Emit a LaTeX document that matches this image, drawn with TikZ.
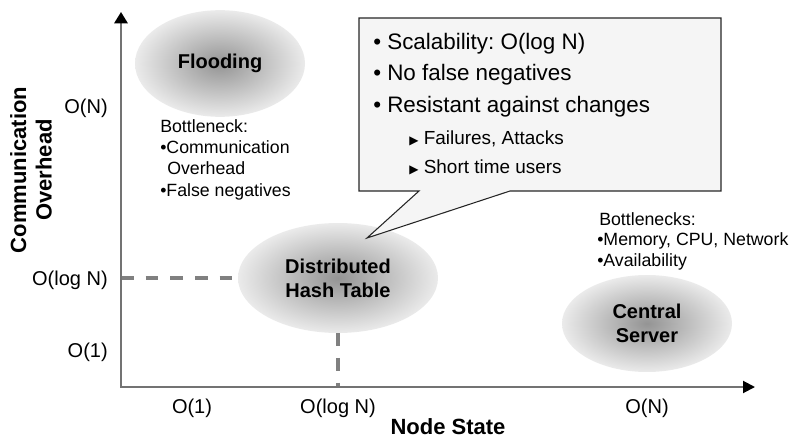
\documentclass[tikz,border=0pt]{standalone}
\usepackage{fontspec}
\setmainfont{Liberation Sans}
\newfontfamily\symfont{DejaVu Sans}
\usetikzlibrary{arrows.meta,shapes.geometric}
\frenchspacing

\begin{document}
\begin{tikzpicture}[x=0.75pt, y=-0.75pt,
	axis/.style={draw=black!55, line width=1.5pt},
	guide/.style={draw=black!50, line width=2.4pt, dash pattern=on 9.5pt off 9pt},
	blob/.style={ellipse, inner color=black!42, outer color=black!8, inner sep=0pt, align=center, font=\fontsize{15}{18}\selectfont\bfseries},
	tick/.style={font=\fontsize{15}{18}\selectfont, inner sep=0pt},
	title/.style={font=\fontsize{16.5}{19}\selectfont\bfseries, align=center, inner sep=0pt},
	note/.style={font=\fontsize{13.3}{16}\selectfont, anchor=base west, inner sep=0pt},
	item/.style={font=\fontsize{16.8}{20}\selectfont, anchor=base west, inner sep=0pt},
	subitem/.style={font=\fontsize{14.2}{17}\selectfont, anchor=base west, inner sep=0pt},
	callout/.style={draw=black!85, fill=black!4, line width=0.8pt, line join=miter}]
\useasboundingbox (0,0) rectangle (795,438);

\coordinate (origin) at (121,387);
\coordinate (ytip) at (121,12);
\coordinate (xtip) at (755,387);

% the three systems
\node[blob, minimum width=127.5pt, minimum height=80pt] (flood) at (220,63.5) {Flooding};
\node[blob, minimum width=150pt, minimum height=82.5pt] (dht) at (338,278) {Distributed\\Hash Table};
\node[blob, minimum width=127.5pt, minimum height=72.75pt] (central) at (647,323.5) {Central\\Server};

\draw[guide] (origin |- dht.west) -- (dht.west);
\draw[guide] (dht.south) -- (dht.south |- origin);

\draw[axis, {Triangle[length=8.5pt, width=10pt, color=black]}-{Triangle[length=9pt, width=9pt, color=black]}]
	(ytip) -- (origin) -- (xtip);

% ticks
\node[tick, anchor=east] (yn) at (108,108) {O(N)};
\node[tick, anchor=east] (ylog) at (108,280) {O(log N)};
\node[tick, anchor=east] (yone) at (108,352) {O(1)};
\node[tick] (xone) at (192,408) {O(1)};
\node[tick] (xlog) at (338,408) {O(log N)};
\node[tick] (xn) at (647,408) {O(N)};

\node[title, rotate=90] (ylabel) at (31,170) {Communication\\Overhead};
\node[title] (xlabel) at (448,427) {Node State};

% bottlenecks
\node[note] (fb) at (160,133) {Bottleneck:};
\node[note] (fb1) at (160,154) {\textbullet Communication};
\node[note] (fb2) at (167,175) {Overhead};
\node[note] (fb3) at (160,197) {\textbullet False negatives};
\node[note] (cb) at (599,226) {Bottlenecks:};
\node[note] (cb1) at (597,245) {\textbullet Memory, CPU, Network};
\node[note] (cb2) at (597,267) {\textbullet Availability};

% callout
\coordinate (tip) at (367,238);
\draw[callout] (359,18) -- (721,18) -- (721,191) -- (510,191) -- (tip) -- (419,191) -- (359,191) -- cycle;
\node[item] (scal) at (373,50) {\textbullet\ Scalability: O(log N)};
\node[item] (nofn) at (373,81) {\textbullet\ No false negatives};
\node[item] (resi) at (373,113) {\textbullet\ Resistant against changes};
\node[subitem] (fail) at (409,145) {{\symfont\fontsize{9}{9}\selectfont ▶}\hspace{4pt}Failures, Attacks};
\node[subitem] (short) at (409,174) {{\symfont\fontsize{9}{9}\selectfont ▶}\hspace{4pt}Short time users};
\end{tikzpicture}
\end{document}
